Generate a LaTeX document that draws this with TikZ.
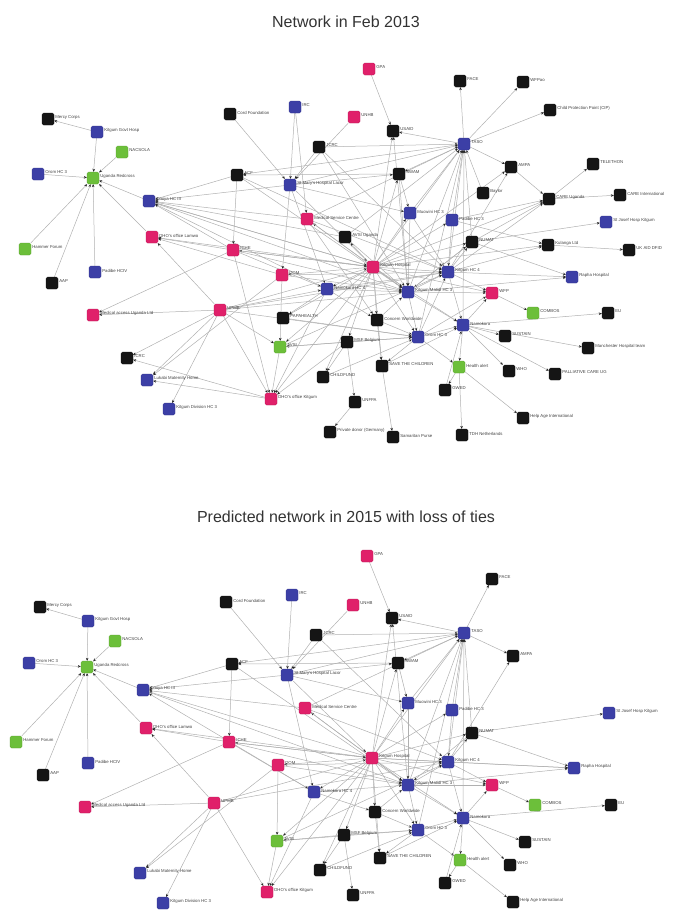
\documentclass[tikz,border=0pt]{standalone}
\usepackage{fontspec}
\setmainfont{Liberation Sans}
\usetikzlibrary{arrows.meta,backgrounds}
\definecolor{cpink}{HTML}{E0206A}
\definecolor{cblue}{HTML}{3C3FA6}
\definecolor{cgreen}{HTML}{6CBF3A}
\definecolor{cblack}{HTML}{151515}
\definecolor{cedge}{HTML}{B0B0B0}
\tikzset{
 nd/.style={rectangle, rounded corners=1.5pt, minimum size=12pt, inner sep=0pt, draw=#1!80!black, line width=0.3pt, fill=#1},
 lab/.style={font=\fontsize{4.3}{4.8}\selectfont, text=black!75, inner sep=1pt, yshift=1.5pt},
 ed/.style={draw=cedge, line width=0.5pt, -{Stealth[length=3pt,width=2.6pt,color=black!85]}},
 ttl/.style={font=\fontsize{16}{19}\selectfont, text=black!80}
}
\newcommand\nd[5]{\node[nd=#4, label={[lab]0:#5}] (#1) at (#2,#3) {};}
\begin{document}
\begin{tikzpicture}[x=1pt,y=-1pt]
\useasboundingbox (0,0) rectangle (692,910);
\node[ttl] (ttop) at (346,22) {Network in Feb 2013};
\node[ttl] (tbot) at (346,517) {Predicted network in 2015 with loss of ties};
% ---------------- top network ----------------
\nd{t-marcy}{48}{119}{cblack}{Mercy Corps}
\nd{t-pilgum}{97}{132}{cblue}{Kitgum Govt Hosp}
\nd{t-nacsola}{122}{152}{cgreen}{NACSOLA}
\nd{t-grace}{38}{174}{cblue}{Orom HC 3}
\nd{t-urc}{93}{178}{cgreen}{Uganda Redcross}
\nd{t-spt}{149}{201}{cblue}{Omiya HC III}
\nd{t-dhoa}{152}{237}{cpink}{DHO's office Lamwo}
\nd{t-hammer}{25}{249}{cgreen}{Hammer Forum}
\nd{t-aap}{52}{283}{cblack}{AAP}
\nd{t-aloyo}{95}{272}{cblue}{Padibe HCIV}
\nd{t-medacc}{93}{315}{cpink}{Medical access Uganda Ltd}
\nd{t-upmb}{220}{310}{cpink}{UPMB}
\nd{t-kcrv}{127}{358}{cblack}{ICRC}
\nd{t-lokabi}{147}{380}{cblue}{Lukabi Maternity Home}
\nd{t-pildiv}{169}{409}{cblue}{Kitgum Division HC 3}
\nd{t-gpa}{369}{69}{cpink}{GPA}
\nd{t-cord}{230}{114}{cblack}{Cord Foundation}
\nd{t-irc}{295}{107}{cblue}{IRC}
\nd{t-unhb}{354}{117}{cpink}{UNHB}
\nd{t-usaid}{393}{131}{cblack}{USAID}
\nd{t-jcrc}{319}{147}{cblack}{JCRC}
\nd{t-acf}{237}{175}{cblack}{ACF}
\nd{t-lacor}{290}{185}{cblue}{St Mary's Hospital Lacor}
\nd{t-swam}{399}{174}{cblack}{SWAM}
\nd{t-medsvc}{307}{219}{cpink}{Medical Service Centre}
\nd{t-k345}{345}{237}{cblack}{AVSI Uganda}
\nd{t-b410}{410}{213}{cblue}{Mucwini HC 3}
\nd{t-kalongo}{452}{220}{cblue}{Padibe HC 3}
\nd{t-iche}{233}{250}{cpink}{ICHE}
\nd{t-face}{460}{81}{cblack}{FACE}
\nd{t-wfpao}{523}{82}{cblack}{WFPao}
\nd{t-cip}{550}{110}{cblack}{Child Protection Point (CIP)}
\nd{t-taso}{464}{144}{cblue}{TASO}
\nd{t-ampa}{511}{167}{cblack}{AMPA}
\nd{t-tele}{593}{164}{cblack}{TELETHON}
\nd{t-baylor}{483}{193}{cblack}{Baylor}
\nd{t-careu}{549}{199}{cblack}{CARE Uganda}
\nd{t-carei}{620}{195}{cblack}{CARE International}
\nd{t-stjos}{606}{222}{cblue}{St Josef Hosp Kitgum}
\nd{t-k472}{472}{242}{cblack}{NUMAT}
\nd{t-avsi}{548}{245}{cblack}{Kulanga Ltd}
\nd{t-ukaid}{629}{250}{cblack}{UK AID DFID}
\nd{t-b448}{448}{272}{cblue}{Kitgum HC 4}
\nd{t-rapha}{572}{277}{cblue}{Rapha Hospital}
\nd{t-wfp}{492}{293}{cpink}{WFP}
\nd{t-combos}{533}{313}{cgreen}{COMBOS}
\nd{t-eu}{608}{313}{cblack}{EU}
\nd{t-b463}{463}{325}{cblue}{Namokora}
\nd{t-sustain}{505}{336}{cblack}{SUSTAIN}
\nd{t-manch}{588}{348}{cblack}{Manchester Hospital team}
\nd{t-health}{459}{367}{cgreen}{Health alert}
\nd{t-who}{509}{371}{cblack}{WHO}
\nd{t-pall}{555}{374}{cblack}{PALLIATIVE CARE UG}
\nd{t-helpage}{523}{418}{cblack}{Help Age International}
\nd{t-tdh}{462}{435}{cblack}{TDH Netherlands}
\nd{t-k445}{445}{390}{cblack}{GWED}
\nd{t-p282}{282}{275}{cpink}{DOM}
\nd{t-hub}{373}{267}{cpink}{Kitgum Hospital}
\nd{t-b327}{327}{289}{cblue}{Namokora HC 4}
\nd{t-b408}{408}{292}{cblue}{Kitgum Matidi HC 3}
\nd{t-k283}{283}{318}{cblack}{PAPAHEALTH}
\nd{t-k377}{377}{320}{cblack}{Concern Worldwide}
\nd{t-b418}{418}{337}{cblue}{Orom HC 3}
\nd{t-k347}{347}{342}{cblack}{MSF Belgium}
\nd{t-g280}{280}{347}{cgreen}{AVSI}
\nd{t-save}{382}{366}{cblack}{SAVE THE CHILDREN}
\nd{t-childf}{323}{377}{cblack}{CHILDFUND}
\nd{t-dhok}{271}{399}{cpink}{DHO's office Kitgum}
\nd{t-unhcr}{355}{402}{cblack}{UNFPA}
\nd{t-privd}{330}{432}{cblack}{Private donor (Germany)}
\nd{t-samar}{393}{437}{cblack}{Samaritan Purse}
% ---------------- bottom network ----------------
\nd{b-marcy}{40}{607}{cblack}{Mercy Corps}
\nd{b-pilgum}{88}{621}{cblue}{Kitgum Govt Hosp}
\nd{b-nacsola}{115}{641}{cgreen}{NACSOLA}
\nd{b-grace}{29}{663}{cblue}{Orom HC 3}
\nd{b-urc}{87}{667}{cgreen}{Uganda Redcross}
\nd{b-spt}{143}{690}{cblue}{Omiya HC III}
\nd{b-dhoa}{146}{728}{cpink}{DHO's office Lamwo}
\nd{b-hammer}{16}{742}{cgreen}{Hammer Forum}
\nd{b-aloyo}{88}{763}{cblue}{Padibe HCIV}
\nd{b-aap}{43}{775}{cblack}{AAP}
\nd{b-medacc}{85}{807}{cpink}{Medical access Uganda Ltd}
\nd{b-upmb}{214}{803}{cpink}{UPMB}
\nd{b-iche}{229}{742}{cpink}{ICHE}
\nd{b-lokabi}{140}{873}{cblue}{Lukabi Maternity Home}
\nd{b-pildiv}{163}{903}{cblue}{Kitgum Division HC 3}
\nd{b-gpa}{367}{556}{cpink}{GPA}
\nd{b-cord}{226}{602}{cblack}{Cord Foundation}
\nd{b-irc}{292}{595}{cblue}{IRC}
\nd{b-unhb}{353}{605}{cpink}{UNHB}
\nd{b-usaid}{392}{618}{cblack}{USAID}
\nd{b-jcrc}{316}{635}{cblack}{JCRC}
\nd{b-acf}{232}{664}{cblack}{ACF}
\nd{b-swam}{398}{663}{cblack}{SWAM}
\nd{b-lacor}{287}{675}{cblue}{St Mary's Hospital Lacor}
\nd{b-taso}{464}{633}{cblue}{TASO}
\nd{b-face}{492}{579}{cblack}{FACE}
\nd{b-ampa}{513}{656}{cblack}{AMPA}
\nd{b-medsvc}{305}{708}{cpink}{Medical Service Centre}
\nd{b-b410}{408}{703}{cblue}{Mucwini HC 3}
\nd{b-kalongo}{452}{710}{cblue}{Padibe HC 3}
\nd{b-k472}{472}{733}{cblack}{NUMAT}
\nd{b-stjos}{609}{713}{cblue}{St Josef Hosp Kitgum}
\nd{b-p282}{278}{765}{cpink}{DOM}
\nd{b-hub}{372}{758}{cpink}{Kitgum Hospital}
\nd{b-b448}{448}{762}{cblue}{Kitgum HC 4}
\nd{b-rapha}{574}{768}{cblue}{Rapha Hospital}
\nd{b-b327}{314}{792}{cblue}{Namokora HC 4}
\nd{b-b408}{408}{785}{cblue}{Kitgum Matidi HC 3}
\nd{b-wfp}{492}{785}{cpink}{WFP}
\nd{b-combos}{535}{805}{cgreen}{COMBOS}
\nd{b-eu}{611}{805}{cblack}{EU}
\nd{b-k377}{375}{812}{cblack}{Concern Worldwide}
\nd{b-b463}{463}{818}{cblue}{Namokora}
\nd{b-b418}{418}{830}{cblue}{Orom HC 3}
\nd{b-k347}{344}{835}{cblack}{MSF Belgium}
\nd{b-g280}{277}{841}{cgreen}{AVSI}
\nd{b-sustain}{525}{842}{cblack}{SUSTAIN}
\nd{b-save}{380}{858}{cblack}{SAVE THE CHILDREN}
\nd{b-health}{460}{860}{cgreen}{Health alert}
\nd{b-who}{510}{865}{cblack}{WHO}
\nd{b-childf}{320}{870}{cblack}{CHILDFUND}
\nd{b-k445}{445}{883}{cblack}{GWED}
\nd{b-dhok}{267}{892}{cpink}{DHO's office Kitgum}
\nd{b-unhcr}{353}{895}{cblack}{UNFPA}
\nd{b-helpage}{513}{902}{cblack}{Help Age International}
\begin{pgfonlayer}{background}
\foreach \a/\b in {pilgum/marcy, pilgum/urc, nacsola/urc, grace/urc, spt/urc, dhoa/urc, hammer/urc, aap/urc, aloyo/urc,
 upmb/medacc, iche/medacc, upmb/kcrv, dhok/kcrv, upmb/lokabi, p282/lokabi, upmb/pildiv, upmb/dhoa,
 iche/dhoa, p282/dhoa, hub/dhoa, lacor/spt, hub/spt, b327/spt, iche/spt, medsvc/spt, k345/spt, acf/spt,
 gpa/usaid, unhb/lacor, cord/lacor, irc/lacor, irc/medsvc, jcrc/lacor, jcrc/taso, taso/usaid, hub/usaid, b408/usaid,
 taso/acf, swam/acf, acf/iche, lacor/taso, lacor/swam, lacor/b410, lacor/hub, lacor/p282, lacor/b327, taso/swam, hub/swam,
 hub/taso, b408/taso, b448/taso, kalongo/taso, b410/taso, k472/taso, b418/taso, b463/taso, baylor/taso, medsvc/taso, k345/taso,
 taso/face, taso/wfpao, taso/cip, taso/ampa, hub/ampa, b448/ampa,
 ampa/careu, careu/tele, careu/carei, b448/careu, kalongo/careu, k472/careu, hub/careu,
 k472/stjos, b448/avsi, kalongo/avsi, hub/avsi, avsi/ukaid, b448/rapha, k472/rapha, b408/rapha,
 b448/wfp, hub/wfp, b408/wfp, wfp/combos, b463/eu, b463/sustain, b463/manch, b463/pall, b463/who, b463/health,
 health/helpage, health/tdh, health/k445, b418/health,
 hub/save, b418/save, k377/save, save/samar, unhcr/privd, k347/unhcr, k347/childf, hub/childf,
 g280/dhok, upmb/dhok, iche/dhok, hub/dhok, b327/dhok, k347/dhok,
 upmb/g280, p282/g280, hub/g280, k347/g280, b327/k283, hub/k283,
 hub/b408, hub/b448, hub/b418, hub/b463, hub/b327, hub/k377, hub/k347, hub/p282, hub/iche, hub/medsvc, hub/k345, hub/b410, hub/kalongo, hub/k472,
 b408/b448, b408/b418, b408/b463, b448/b463, b418/b463, b448/k472, kalongo/b448, b410/b408, b410/b448, k472/b408,
 k377/b408, k377/b418, k347/b418, k345/b408, medsvc/b408, medsvc/b448, p282/b408, p282/b448, b327/b408, b327/b448,
 iche/b327, iche/b408, upmb/b327, upmb/b408, upmb/hub, iche/hub, medsvc/k377, b327/k377, k283/b418, g280/b418, g280/b448,
 childf/b418, save/b463, k445/b463, b418/b448, b463/wfp, b418/wfp, b408/k472, swam/b410, swam/b408,
 jcrc/b408, jcrc/b448, acf/b448, acf/b408, spt/b408, spt/hub, upmb/b448, upmb/b418, dhok/lokabi}
 \draw[ed] (t-\a) -- (t-\b);
\foreach \a/\b in {pilgum/marcy, pilgum/urc, nacsola/urc, grace/urc, spt/urc, dhoa/urc, hammer/urc, aap/urc, aloyo/urc,
 upmb/medacc, iche/medacc, upmb/lokabi, p282/lokabi, upmb/pildiv, upmb/dhoa, iche/dhoa, hub/dhoa,
 lacor/spt, hub/spt, b327/spt, medsvc/spt, acf/spt,
 gpa/usaid, unhb/lacor, cord/lacor, irc/lacor, jcrc/lacor, jcrc/taso, taso/usaid, hub/usaid, b408/usaid,
 taso/acf, swam/acf, acf/iche, lacor/taso, lacor/swam, lacor/b410, lacor/hub, lacor/b327, taso/swam, hub/swam,
 hub/taso, b408/taso, b448/taso, kalongo/taso, b410/taso, k472/taso, b418/taso, b463/taso, medsvc/taso,
 taso/face, taso/ampa, b448/ampa,
 k472/stjos, b448/rapha, k472/rapha, b408/rapha, hub/rapha,
 b448/wfp, hub/wfp, b408/wfp, wfp/combos, b463/eu, b463/sustain, b463/who, b463/health,
 health/helpage, health/k445, b418/health,
 hub/save, b418/save, k377/save, k347/unhcr, k347/childf, hub/childf,
 g280/dhok, upmb/dhok, hub/dhok, b327/dhok,
 p282/g280, hub/g280, k347/g280,
 hub/b408, hub/b448, hub/b418, hub/b463, hub/b327, hub/k377, hub/k347, hub/p282, hub/iche, hub/medsvc, hub/b410, hub/kalongo, hub/k472,
 b408/b448, b408/b418, b408/b463, b448/b463, b418/b463, b448/k472, kalongo/b448, b410/b408, k472/b408,
 k377/b408, k377/b418, k347/b418, medsvc/b408, medsvc/b448, p282/b408, p282/b448, b327/b408,
 iche/b327, iche/b408, upmb/hub, iche/hub, b327/k377, g280/b418, g280/b448, childf/b418, save/b463, k445/b463,
 b463/wfp, swam/b410, jcrc/b448, acf/b408, spt/b408, upmb/b448}
 \draw[ed] (b-\a) -- (b-\b);
\end{pgfonlayer}
\end{tikzpicture}
\end{document}
